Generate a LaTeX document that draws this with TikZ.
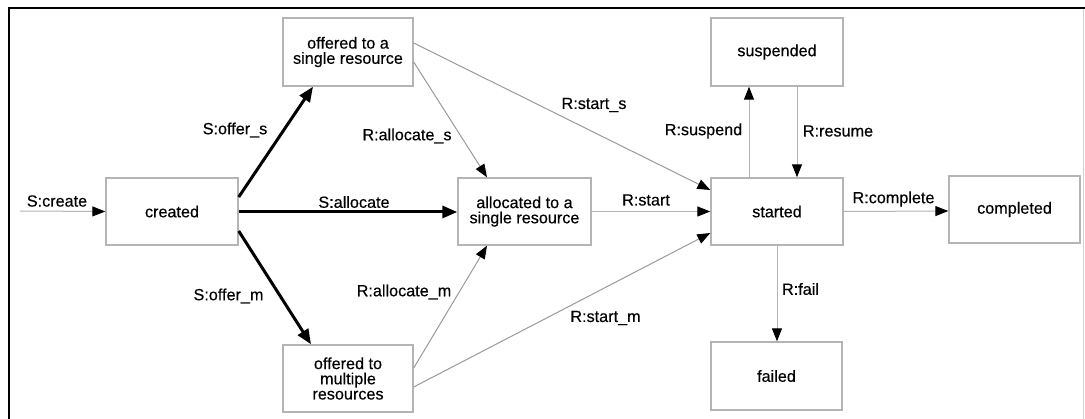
\documentclass[tikz,border=0pt]{standalone}
\usepackage{fontspec}
\setmainfont{Liberation Sans}[FakeBold=0.35]
\usetikzlibrary{arrows.meta}
\definecolor{boxline}{HTML}{B4B4B4}
\definecolor{flowline}{HTML}{9A9A9A}
\begin{document}
\begin{tikzpicture}[x=1pt,y=-1pt,
  every node/.style={font=\fontsize{16.2}{15.2}\selectfont},
  state/.style={draw=boxline,line width=1.4pt,inner sep=0pt,align=center},
  thickflow/.style={line width=3pt,-{Triangle[length=15pt,width=12pt]}},
  thinflow/.style={draw=flowline,line width=1pt,-{Triangle[length=13pt,width=10pt,color=black]}},
  lbl/.style={inner sep=0pt}]
\useasboundingbox (0,0) rectangle (1085,419);
\fill[white] (0,0) rectangle (1085,419);
% frame
\draw[line width=2pt] (9,420) -- (9,8) -- (1086,8);
\draw[gray!35,line width=0.8pt] (1083.5,9) -- (1083.5,419);

% states
\node[state,minimum width=132pt,minimum height=67pt] (created) at (172,211.5) {created};
\node[state,minimum width=130pt,minimum height=68pt] (offs) at (348,52) {offered to a\\single resource};
\node[state,minimum width=130pt,minimum height=67pt] (offm) at (348,378.5) {offered to\\multiple\\resources};
\node[state,minimum width=133pt,minimum height=67pt] (alloc) at (524.5,211.5) {allocated to a\\single resource};
\node[state,minimum width=132pt,minimum height=67pt] (started) at (777,211.5) {started};
\node[state,minimum width=132pt,minimum height=68pt] (susp) at (777,52) {suspended};
\node[state,minimum width=131pt,minimum height=68pt] (failed) at (776.5,376) {failed};
\node[state,minimum width=131pt,minimum height=67pt] (completed) at (1014.5,209.5) {completed};

% entry
\coordinate (entry) at (20,211);
\draw[thinflow,draw=boxline] (entry) -- (created.west);
\node[lbl] (lcreate) at (57,201) {S:create};

% system transitions
\draw[thickflow] ([yshift=14.5pt]created.east) -- ([xshift=-35pt]offs.south);
\draw[thickflow] ([yshift=-0.5pt]created.east) -- ([yshift=-0.5pt]alloc.west);
\draw[thickflow] ([yshift=-19.5pt]created.east) -- ([xshift=-37pt]offm.north);
\node[lbl] (loffs) at (235,130) {S:offer\_s};
\node[lbl] (lalloc) at (354,202) {S:allocate};
\node[lbl] (loffm) at (228.5,296) {S:offer\_m};

% resource transitions
\draw[thinflow] ([yshift=-10pt]offs.east) -- ([xshift=-37.5pt]alloc.north);
\draw[thinflow] ([yshift=10.5pt]offm.east) -- ([xshift=-37.5pt]alloc.south);
\draw[thinflow] ([yshift=9pt]offs.east) -- ([yshift=21.5pt]started.west);
\draw[thinflow,draw=boxline] (alloc.east) -- (started.west);
\draw[thinflow] ([yshift=-8.5pt]offm.east) -- ([yshift=-21.5pt]started.west);
\node[lbl] (lallocs) at (407,136) {R:allocate\_s};
\node[lbl] (lallocm) at (404,292) {R:allocate\_m};
\node[lbl] (lstarts) at (594,105) {R:start\_s};
\node[lbl] (lstart) at (646,200) {R:start};
\node[lbl] (lstartm) at (605.5,318) {R:start\_m};

\draw[thinflow,draw=boxline] ([xshift=-28pt]started.north) -- ([xshift=-28pt]susp.south);
\draw[thinflow,draw=boxline] ([xshift=20pt]susp.south) -- ([xshift=20pt]started.north);
\draw[thinflow,draw=boxline] (started.east) -- ([yshift=-1.5pt]completed.west);
\draw[thinflow,draw=boxline] (started.south) -- ([xshift=0.5pt]failed.north);
\node[lbl] (lsusp) at (703.5,131) {R:suspend};
\node[lbl] (lres) at (838,131) {R:resume};
\node[lbl] (lcomp) at (893.5,199) {R:complete};
\node[lbl] (lfail) at (800.5,289) {R:fail};
\end{tikzpicture}
\end{document}
